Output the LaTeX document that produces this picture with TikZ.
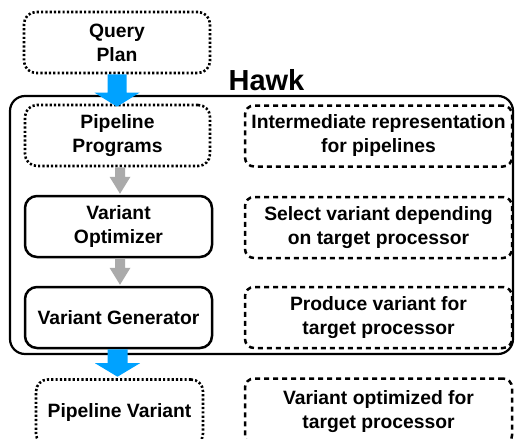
\documentclass[tikz,border=0pt]{standalone}
\usepackage{fontspec}
\setmainfont{Liberation Sans}
\usetikzlibrary{calc}
\definecolor{arrblue}{RGB}{0,162,255}
\definecolor{arrgray}{RGB}{170,170,170}
\newcommand\fatarrow[6]{%
  \fill[#6] let \p1=(#1), \p2=(#2) in
    (\x1-#3,\y1) -- (\x1-#3,\y2+#5) -- (\x1-#4,\y2+#5) -- (\x1,\y2)
    -- (\x1+#4,\y2+#5) -- (\x1+#3,\y2+#5) -- (\x1+#3,\y1) -- cycle;}
\tikzset{
  txt/.style={font=\fontsize{19.3}{24}\selectfont\bfseries, align=center, inner sep=0pt},
  dotbox/.style={txt, draw, line width=2.6pt, dash pattern=on 2.2pt off 2.1pt, rounded corners=12pt, minimum height=61pt},
  solbox/.style={txt, draw, line width=2.5pt, rounded corners=12pt, minimum width=187pt, minimum height=61pt},
  dashbox/.style={txt, draw, line width=2.5pt, dash pattern=on 5pt off 4pt, rounded corners=9pt, minimum width=267pt, minimum height=61pt},
}
\begin{document}
\begin{tikzpicture}[x=1pt,y=-1pt]
\useasboundingbox (0,0) rectangle (515,439);
\begin{scope}
\clip (0,0) rectangle (515,439);
% Hawk container
\node[draw, line width=2.2pt, rounded corners=15pt, minimum width=503pt, minimum height=258pt, inner sep=0pt] (hawk) at (261.5,225) {};
\node[font=\fontsize{29}{34}\selectfont\bfseries, anchor=base, inner sep=0pt] (hawkl) at (266.5,90) {Hawk};
% left column
\node[dotbox, minimum width=186pt] (qp) at (117,42.5) {Query\\Plan};
\node[dotbox, minimum width=185pt] (pp) at (117.5,135.5) {Pipeline\\Programs};
\node[solbox] (vo) at (118.5,226.5) {Variant\\Optimizer};
\node[solbox] (vg) at (118.5,317.5) {Variant Generator};
\node[dotbox, minimum width=167pt, minimum height=66pt] (pv) at (119.5,412.5) {\raisebox{2.5pt}{Pipeline Variant}};
% right column
\node[dashbox] (r1) at (378.5,136) {Intermediate representation\\for pipelines};
\node[dashbox] (r2) at (378.5,227.5) {Select variant depending\\on target processor};
\node[dashbox] (r3) at (378.5,317.5) {Produce variant for\\target processor};
\node[dashbox, minimum height=66pt] (r4) at (378.5,411.5) {\raisebox{2.5pt}{\begin{tabular}{@{}c@{}}Variant optimized for\\target processor\end{tabular}}};
% arrows
\coordinate (a1s) at (qp.south);
\coordinate (a1t) at ($(pp.north)+(0,3)$);
\coordinate (a2s) at ($(pp.south)+(2.5,0)$);
\coordinate (a2t) at ($(vo.north)+(1.5,-1)$);
\coordinate (a3s) at ($(vo.south)+(1.5,0)$);
\coordinate (a3t) at ($(vg.north)+(1.5,-1)$);
\coordinate (a4s) at ($(vg.south)+(-1,0)$);
\coordinate (a4t) at ($(pv.north)+(-2,-1.5)$);
\fatarrow{a1s}{a1t}{9.5pt}{22.5pt}{14pt}{arrblue}
\fatarrow{a2s}{a2t}{5pt}{10.5pt}{17pt}{arrgray}
\fatarrow{a3s}{a3t}{5pt}{10.5pt}{17pt}{arrgray}
\fatarrow{a4s}{a4t}{10pt}{22.5pt}{13.5pt}{arrblue}
\end{scope}
\end{tikzpicture}
\end{document}
